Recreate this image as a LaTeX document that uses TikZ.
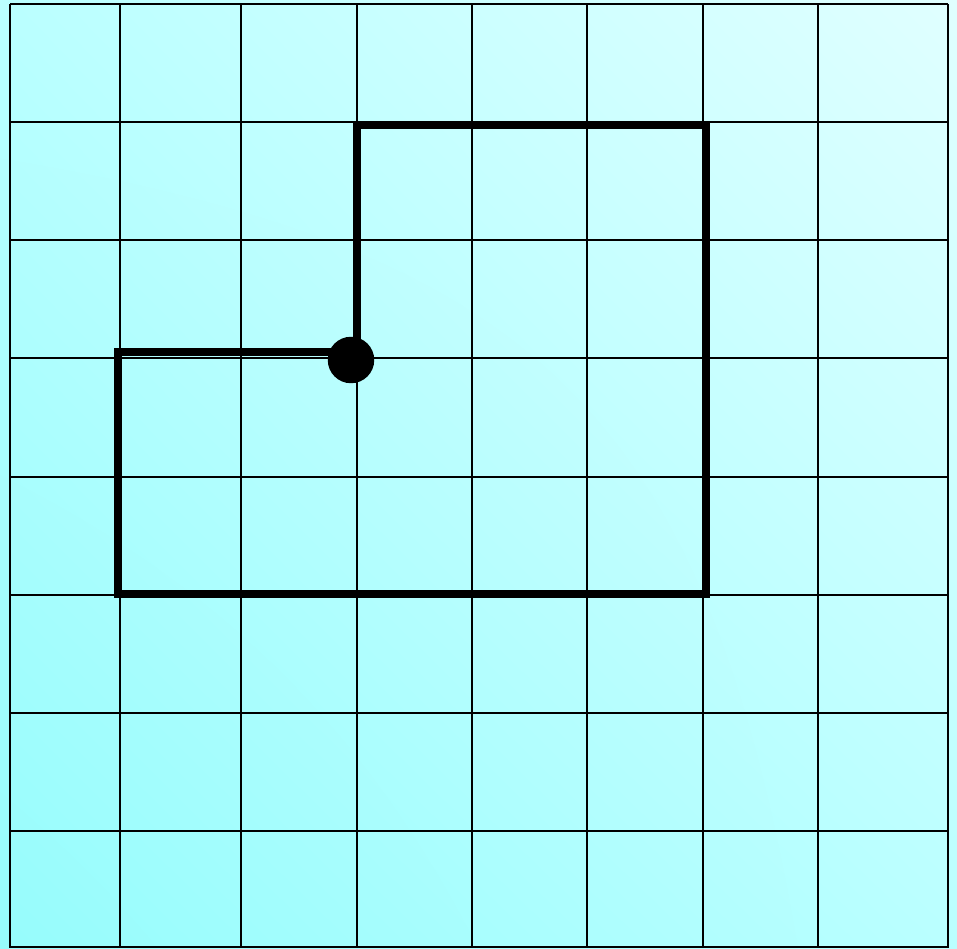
\documentclass[tikz,border=0pt]{standalone}
\usepackage{tikz}
\usetikzlibrary{calc,positioning,shadings}
\definecolor{lowcyan}{RGB}{150,252,252}
\definecolor{midcyan}{RGB}{186,255,255}
\definecolor{highcyan}{RGB}{224,255,255}

\begin{document}
\begin{tikzpicture}[x=0.02cm,y=-0.02cm,
      gridln/.style={line width=1.1pt,black},
      walk/.style={line width=4.3pt,black,line join=miter},
      dot/.style={circle,fill=black,minimum size=0.93cm,inner sep=0pt}]
    \useasboundingbox (0,0) rectangle (957,949);
    \shade[lower left=lowcyan,upper right=highcyan,lower right=midcyan,upper left=midcyan] (0,0) rectangle (957,949);
    % grid
    \foreach \gx in {10,120,241,357,472,587,703,818,948}
      \draw[gridln] (\gx,4) -- (\gx,948);
    \foreach \gy in {4,122,240,358,477,595,713,831,947}
      \draw[gridln] (10,\gy) -- (948,\gy);
    % walk
    \node[dot] (start) at (351,360) {};
    \coordinate (up) at (357,125);
    \coordinate (ne) at (706,125);
    \coordinate (se) at (706,594);
    \coordinate (sw) at (118,594);
    \coordinate (nw) at (118,352);
    \draw[walk] (start.center -| up) -- (up) -- (ne) -- (se) -- (sw) -- (nw) -- (nw -| start.center);
  \end{tikzpicture}
\end{document}
